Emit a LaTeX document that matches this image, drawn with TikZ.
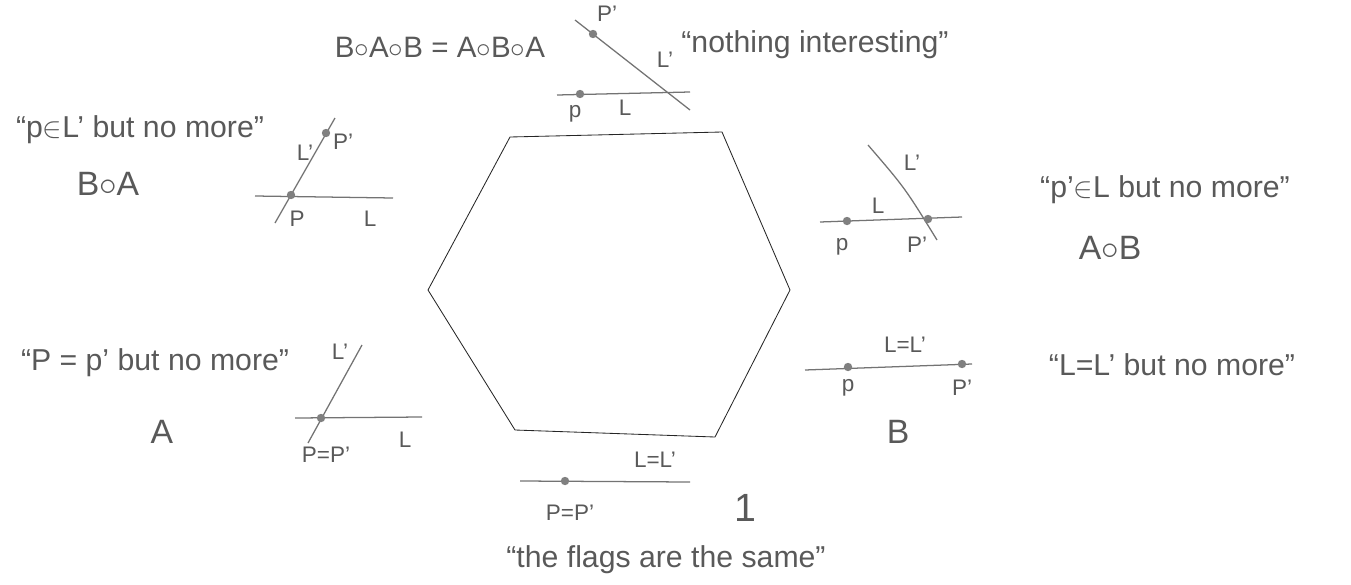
\documentclass[tikz,border=0pt]{standalone}
\usepackage{fontspec}
\setmainfont{Liberation Sans}
\begin{document}
\begin{tikzpicture}[x=0.25mm,y=-0.25mm,
 pencil/.style={draw=black!55, line width=0.9pt},
 hex/.style={draw=black!85, line width=0.6pt},
 dot/.style={circle, fill=black!50, inner sep=0pt, minimum size=2.1mm},
 quote/.style={text=black!65, font=\fontsize{21.5}{23}\selectfont, inner sep=0pt},
 lbl/.style={text=black!65, font=\fontsize{16}{18}\selectfont, inner sep=0pt},
 big/.style={text=black!65, font=\fontsize{24}{26}\selectfont, inner sep=0pt}]
\useasboundingbox (0,0) rectangle (1351,584);

% hexagon
\coordinate (h1) at (510,137);
\coordinate (h2) at (722,132);
\coordinate (h3) at (790,290);
\coordinate (h4) at (715,437);
\coordinate (h5) at (515,430);
\coordinate (h6) at (428,290);
\draw[hex] (h1)--(h2)--(h3)--(h4)--(h5)--(h6)--cycle;

% top flag
\coordinate (tL1) at (557,95);
\coordinate (tL2) at (690,92);
\coordinate (tM1) at (575,20);
\coordinate (tM2) at (690,110);
\draw[pencil] (tL1)--(tL2);
\draw[pencil] (tM1)--(tM2);
\node[dot] (tp) at (580,94) {};
\node[dot] (tq) at (593,34) {};
\node[lbl] (tqlab) at (607,14) {P'};
\node[lbl] (tMlab) at (665,60) {L'};
\node[lbl] (tplab) at (575,114) {p};
\node[lbl] (tLlab) at (625,108) {L};
\node[big,font=\fontsize{21}{23}\selectfont] (topeq) at (440,47) {B$\circ$A$\circ$B = A$\circ$B$\circ$A};
\node[quote] (topq) at (815,45) {``nothing interesting''};

% left top flag (B o A)
\coordinate (aL1) at (255,196);
\coordinate (aL2) at (393,198);
\coordinate (aM1) at (275,223);
\coordinate (aM2) at (335,118);
\draw[pencil] (aL1)--(aL2);
\draw[pencil] (aM1)--(aM2);
\node[dot] (ap) at (291,195) {};
\node[dot] (aq) at (326,133) {};
\node[lbl] (aMlab) at (305,153) {L'};
\node[lbl] (aqlab) at (343,142) {P'};
\node[lbl] (aplab) at (297,219) {P};
\node[lbl] (aLlab) at (370,219) {L};
\node[quote] (aquote) at (140,130) {``p$\in$L' but no more''};
\node[big] (aname) at (108,184) {B$\circ$A};

% right top flag (A o B)
\coordinate (bL1) at (820,222);
\coordinate (bL2) at (962,217);
\coordinate (bM1) at (868,145);
\coordinate (bMc) at (905,188);
\coordinate (bM2) at (937,240);
\draw[pencil] (bL1)--(bL2);
\draw[pencil] (bM1) .. controls (bMc) .. (bM2);
\node[dot] (bp) at (847,221) {};
\node[dot] (bq) at (928,219) {};
\node[lbl] (bMlab) at (912,163) {L'};
\node[lbl] (bLlab) at (878,206) {L};
\node[lbl] (bplab) at (842,247) {p};
\node[lbl] (bqlab) at (917,245) {P'};
\node[quote] (bquote) at (1165,190) {``p'$\in$L but no more''};
\node[big] (bname) at (1110,248) {A$\circ$B};

% left bottom flag (A)
\coordinate (cL1) at (295,418);
\coordinate (cL2) at (422,417);
\coordinate (cM1) at (308,443);
\coordinate (cM2) at (362,345);
\draw[pencil] (cL1)--(cL2);
\draw[pencil] (cM1)--(cM2);
\node[dot] (cp) at (321,418) {};
\node[lbl] (cMlab) at (340,352) {L'};
\node[lbl] (cplab) at (326,455) {P=P'};
\node[lbl] (cLlab) at (405,440) {L};
\node[quote] (cquote) at (155,363) {``P = p' but no more''};
\node[big] (cname) at (162,432) {A};

% right bottom flag (B)
\coordinate (dL1) at (805,370);
\coordinate (dL2) at (972,364);
\draw[pencil] (dL1)--(dL2);
\node[dot] (dp) at (848,367) {};
\node[dot] (dq) at (962,364) {};
\node[lbl] (dLlab) at (905,345) {L=L'};
\node[lbl] (dplab) at (848,388) {p};
\node[lbl] (dqlab) at (962,388) {P'};
\node[big] (dname) at (898,432) {B};
\node[quote] (dquote) at (1172,365) {``L=L' but no more''};

% bottom flag (1)
\coordinate (eL1) at (520,481);
\coordinate (eL2) at (690,482);
\draw[pencil] (eL1)--(eL2);
\node[dot] (ep) at (565,481) {};
\node[lbl] (eLlab) at (655,460) {L=L'};
\node[lbl] (eplab) at (570,513) {P=P'};
\node[big,font=\fontsize{28}{30}\selectfont] (ename) at (745,508) {1};
\node[quote] (equote) at (666,560) {``the flags are the same''};
\end{tikzpicture}
\end{document}
